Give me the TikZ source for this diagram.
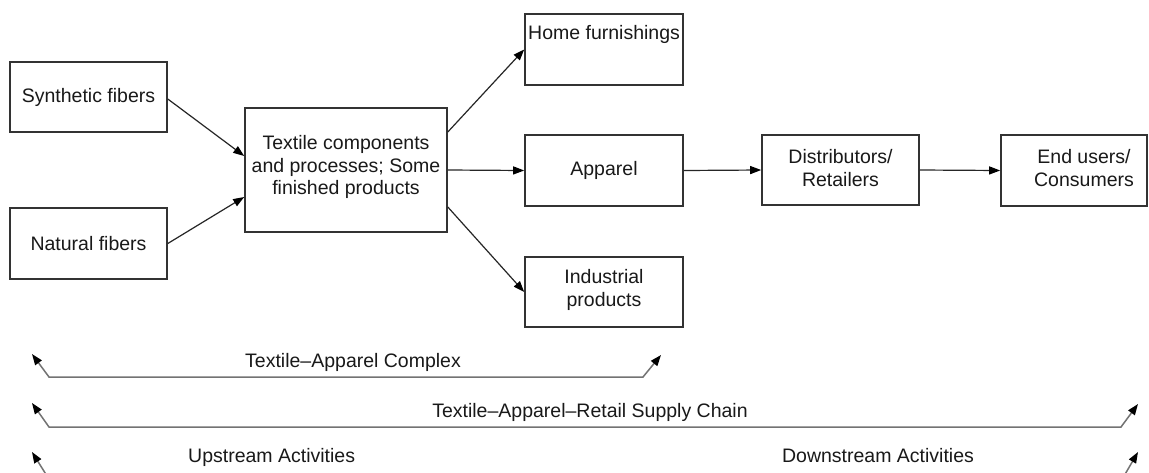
\documentclass[tikz,border=0pt]{standalone}
\usepackage{fontspec}
\setmainfont{Liberation Sans}
\usetikzlibrary{arrows.meta,calc}
\begin{document}
\begin{tikzpicture}[x=1pt,y=-1pt,
  txt/.style={font=\fontsize{19.5}{22.5}\selectfont, text=black!90, inner sep=0pt, align=center},
  box/.style={draw=black!80, line width=1.6pt, inner sep=0pt, fill=white},
  arr/.style={draw=black!85, line width=1.2pt, -{Triangle[length=11pt,width=8pt,color=black]}},
  brk/.style={draw=black!55, line width=1.5pt, {Triangle[length=11pt,width=8pt,color=black]}-{Triangle[length=11pt,width=8pt,color=black]}},
  brkone/.style={draw=black!55, line width=1.5pt, {Triangle[length=11pt,width=8pt,color=black]}-}
]
\useasboundingbox (0,0) rectangle (1149,472);
\clip (0,0) rectangle (1149,472);
\fill[white] (0,0) rectangle (1149,472);

% boxes
\node[box, minimum width=157pt, minimum height=70pt] (syn) at (88.5,97) {};
\node[txt] (syntxt) at (syn.center) {Synthetic fibers};
\node[box, minimum width=157pt, minimum height=71pt] (nat) at (88.5,243.5) {};
\node[txt] (nattxt) at (nat.center) {Natural fibers};
\node[box, minimum width=202pt, minimum height=124pt] (tex) at (346,170) {};
\node[txt] (textxt) at (346,167) {Textile components\\and processes; Some\\finished products};
\node[box, minimum width=158pt, minimum height=71pt] (home) at (604,49.5) {};
\node[txt, anchor=base west] (hometxt) at (528,39) {Home furnishings};
\node[box, minimum width=158pt, minimum height=71pt] (app) at (604,170.5) {};
\node[txt] (apptxt) at (app.center) {Apparel};
\node[box, minimum width=158pt, minimum height=70pt] (ind) at (604,292) {};
\node[txt] (indtxt) at (604,290) {Industrial\\products};
\node[box, minimum width=157pt, minimum height=70pt] (dis) at (840.5,170) {};
\node[txt] (distxt) at (840.5,168) {Distributors/\\Retailers};
\node[box, minimum width=146pt, minimum height=71pt] (end) at (1074,170.5) {};
\node[txt] (endtxt) at (1084,168) {End users/\\Consumers};

% connectors
\draw[arr] ([yshift=-2pt]syn.east) -- ([yshift=14pt]tex.west);
\draw[arr] (nat.east) -- ([yshift=-27pt]tex.west);
\draw[arr] ([yshift=38pt]tex.east) -- (home.west);
\draw[arr] (tex.east) -- (app.west);
\draw[arr] ([yshift=-37pt]tex.east) -- (ind.west);
\draw[arr] (app.east) -- (dis.west);
\draw[arr] (dis.east) -- (end.west);

% brackets
\coordinate (a1) at (32,354);
\coordinate (a2) at (49,377);
\coordinate (a3) at (643,377);
\coordinate (a4) at (661,355);
\draw[brk] (a1) -- (a2) -- (a3) -- (a4);
\coordinate (b1) at (32,403);
\coordinate (b2) at (49,427);
\coordinate (b3) at (1121,427);
\coordinate (b4) at (1138,404);
\draw[brk] (b1) -- (b2) -- (b3) -- (b4);
\coordinate (c1) at (32,452);
\coordinate (c2) at (47,476);
\coordinate (d1) at (1138,452);
\coordinate (d2) at (1124,476);
\draw[brkone] (c1) -- (c2);
\draw[brkone] (d1) -- (d2);

\node[txt, anchor=base west] (l1) at (245,367) {Textile–Apparel Complex};
\node[txt, anchor=base] (l2) at (590,417) {Textile–Apparel–Retail Supply Chain};
\node[txt, anchor=base west] (l3) at (188,462) {Upstream Activities};
\node[txt, anchor=base] (l4) at (878,462) {Downstream Activities};
\end{tikzpicture}
\end{document}
